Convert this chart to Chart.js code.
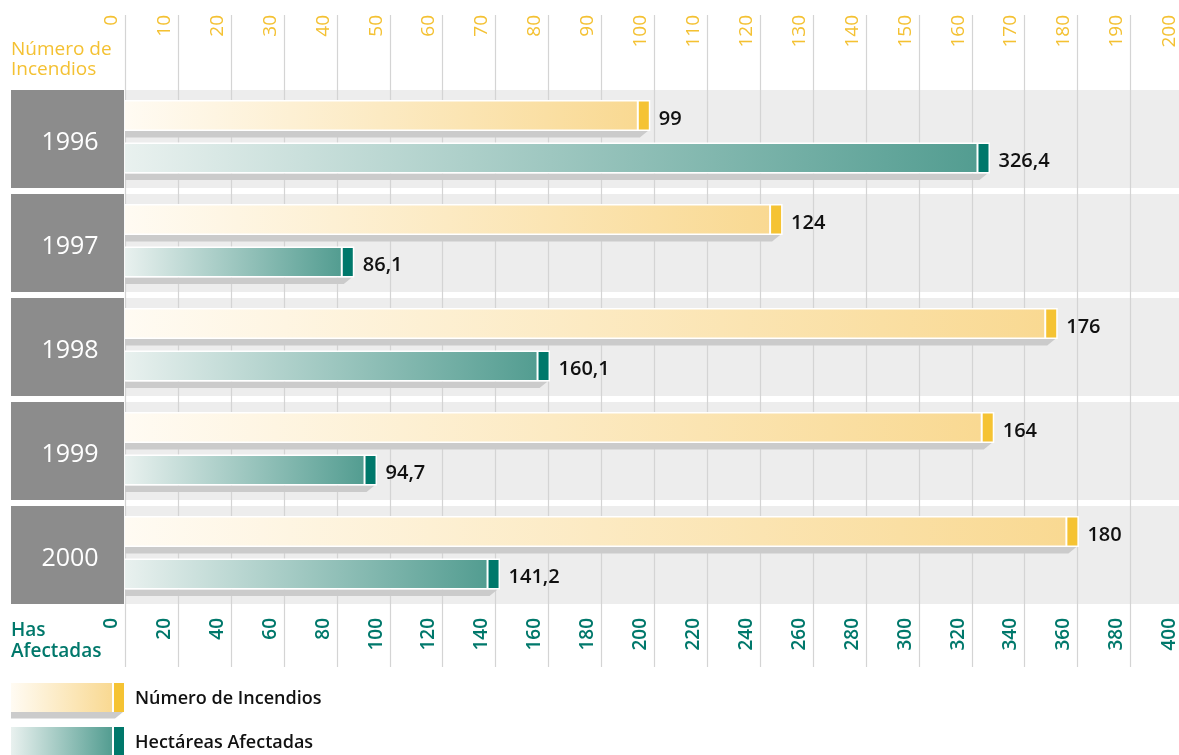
<!DOCTYPE html>
<html>
<head>
<meta charset="utf-8">
<script src="https://cdn.jsdelivr.net/npm/chart.js@4/dist/chart.umd.min.js"></script>
<style>
  html, body { margin: 0; padding: 0; background: #ffffff; overflow: hidden; }
  #wrap { width: 1179px; height: 755px; overflow: hidden; position: relative; }
  canvas { display: block; }
</style>
</head>
<body>
<div id="wrap"><canvas id="chart" width="1200" height="755"></canvas></div>
<script>
// Incendios forestales por año: número de incendios y hectáreas afectadas
const years = ['1996', '1997', '1998', '1999', '2000'];
const incendios = [99, 124, 176, 164, 180];
const hectareas = [326.4, 86.1, 160.1, 94.7, 141.2];
const incendiosTicks = [0, 10, 20, 30, 40, 50, 60, 70, 80, 90, 100, 110, 120, 130, 140, 150, 160, 170, 180, 190, 200];
const hectareasTicks = [0, 20, 40, 60, 80, 100, 120, 140, 160, 180, 200, 220, 240, 260, 280, 300, 320, 340, 360, 380, 400];
const seriesNames = ['Número de Incendios', 'Hectáreas Afectadas'];
const topTitle = ['Número de', 'Incendios'];
const bottomTitle = ['Has', 'Afectadas'];

const FONT = '"Open Sans", "Noto Sans", sans-serif';
const YELLOW = { cap: '#f5c333', from: '#fffbf3', to: '#f9d992', text: '#f4c132' };
const TEAL = { cap: '#00786b', from: '#e9f1ef', to: '#539d91', text: '#00786b' };

const fmtHa = v => v.toFixed(1).replace('.', ',');
const fmtInc = v => String(v);

// One bar: drop shadow, white frame, gradient body and solid end cap
function drawBar(ctx, x0, x1, top, h, st, framed) {
  const bottom = top + h;
  ctx.fillStyle = '#cbcbcb';
  ctx.beginPath();
  ctx.moveTo(x0, bottom);
  ctx.lineTo(x1 - 1, bottom);
  ctx.lineTo(x1 - 9, bottom + 6.5);
  ctx.lineTo(x0, bottom + 6.5);
  ctx.closePath();
  ctx.fill();
  const b = framed ? 1.5 : 0;
  if (framed) {
    ctx.fillStyle = '#ffffff';
    ctx.fillRect(x0, top, x1 - x0 + 1.5, h);
  }
  const capW = 10;
  const capX = x1 - capW;
  const bodyEnd = capX - 2;
  const g = ctx.createLinearGradient(x0, 0, bodyEnd, 0);
  g.addColorStop(0, st.from);
  g.addColorStop(1, st.to);
  ctx.fillStyle = g;
  ctx.fillRect(x0, top + b, Math.max(0, bodyEnd - x0), h - 2 * b);
  if (!framed) {
    ctx.fillStyle = '#ffffff';
    ctx.fillRect(bodyEnd, top, 2, h);
  }
  ctx.fillStyle = st.cap;
  ctx.fillRect(capX, top + b, capW, h - 2 * b);
}

const backdrop = {
  id: 'backdrop',
  beforeDatasetsDraw(chart) {
    const { ctx, chartArea, scales } = chart;
    const y = scales.y, xTop = scales.xTop;
    ctx.save();
    // category bands and year boxes
    years.forEach((yr, i) => {
      const cy = y.getPixelForValue(i);
      const top = cy - 46.75, bot = cy + 51.25;
      ctx.fillStyle = '#ededed';
      ctx.fillRect(chartArea.left, top, chart.width - chartArea.left, bot - top);
      ctx.fillStyle = '#8c8c8c';
      ctx.fillRect(11, top, chartArea.left - 1 - 11, bot - top);
      ctx.fillStyle = '#ffffff';
      ctx.font = '500 25px ' + FONT;
      ctx.textAlign = 'center';
      ctx.textBaseline = 'alphabetic';
      ctx.fillText(yr, 70, cy + 13.25);
    });
    // vertical grid lines
    ctx.strokeStyle = '#d4d4d4';
    ctx.lineWidth = 1.2;
    xTop.ticks.forEach(t => {
      const px = Math.round(xTop.getPixelForValue(t.value)) + 0.5;
      ctx.beginPath();
      ctx.moveTo(px, 15);
      ctx.lineTo(px, 667);
      ctx.stroke();
    });
    ctx.restore();
  },
  afterDatasetsDraw(chart) {
    const { ctx, scales } = chart;
    const xTop = scales.xTop, xBottom = scales.xBottom;
    ctx.save();
    const styles = [YELLOW, TEAL];
    const fmts = [fmtInc, fmtHa];
    chart.data.datasets.forEach((ds, di) => {
      const meta = chart.getDatasetMeta(di);
      meta.data.forEach((el, i) => {
        const p = el.getProps(['x', 'y', 'base', 'height'], true);
        const top = p.y - p.height / 2;
        drawBar(ctx, p.base, p.x, top, p.height, styles[di], true);
        ctx.fillStyle = '#111111';
        ctx.font = '600 20px ' + FONT;
        ctx.textAlign = 'left';
        ctx.textBaseline = 'alphabetic';
        ctx.fillText(fmts[di](ds.data[i]), p.x + 10, p.y + 9);
      });
    });

    // tick labels, rotated, reading upward
    const drawTicks = (scale, yEnd, font, color) => {
      ctx.font = font;
      ctx.fillStyle = color;
      ctx.textAlign = 'right';
      ctx.textBaseline = 'alphabetic';
      scale.ticks.forEach(t => {
        const px = scale.getPixelForValue(t.value);
        ctx.save();
        ctx.translate(px - 8, yEnd);
        ctx.rotate(-Math.PI / 2);
        ctx.fillText(String(t.value), 0, 0);
        ctx.restore();
      });
    };
    drawTicks(xTop, 15, '500 19px ' + FONT, YELLOW.text);
    drawTicks(xBottom, 618, '600 19px ' + FONT, TEAL.text);

    // axis titles
    ctx.textAlign = 'left';
    ctx.textBaseline = 'alphabetic';
    ctx.font = '500 19px ' + FONT;
    ctx.fillStyle = YELLOW.text;
    ctx.fillText(topTitle[0], 11, 55);
    ctx.fillText(topTitle[1], 11, 75);
    ctx.font = '600 19px ' + FONT;
    ctx.fillStyle = TEAL.text;
    ctx.fillText(bottomTitle[0], 11, 636);
    ctx.fillText(bottomTitle[1], 11, 656.5);

    // legend
    const legendTops = [683, 727];
    chart.data.datasets.forEach((ds, di) => {
      const t = legendTops[di];
      drawBar(ctx, 11, 124, t, 29, styles[di], false);
      ctx.fillStyle = '#111111';
      ctx.font = '600 18px ' + FONT;
      ctx.textAlign = 'left';
      ctx.fillText(ds.label, 135, t + 21);
    });
    ctx.restore();
  }
};

const whiteBg = {
  id: 'whiteBg',
  beforeDraw(chart) {
    const c = chart.ctx;
    c.save();
    c.fillStyle = '#ffffff';
    c.fillRect(0, 0, chart.width, chart.height);
    c.restore();
  }
};

new Chart(document.getElementById('chart'), {
  type: 'bar',
  data: {
    labels: years,
    datasets: [
      { label: seriesNames[0], data: incendios, xAxisID: 'xTop', backgroundColor: 'rgba(0,0,0,0)', borderWidth: 0 },
      { label: seriesNames[1], data: hectareas, xAxisID: 'xBottom', backgroundColor: 'rgba(0,0,0,0)', borderWidth: 0 }
    ]
  },
  options: {
    indexAxis: 'y',
    responsive: false,
    animation: false,
    devicePixelRatio: 1,
    categoryPercentage: 0.8173,
    barPercentage: 0.7294,
    layout: { padding: { left: 125, right: 1200 - 1183.2, top: 84.75, bottom: 755 - 604.75 } },
    scales: {
      y: { type: 'category', display: false, offset: true, grid: { display: false } },
      xTop: {
        type: 'linear', position: 'top', min: 0, max: 200, display: false,
        afterBuildTicks: s => { s.ticks = incendiosTicks.map(v => ({ value: v })); }
      },
      xBottom: {
        type: 'linear', position: 'bottom', min: 0, max: 400, display: false,
        afterBuildTicks: s => { s.ticks = hectareasTicks.map(v => ({ value: v })); }
      }
    },
    plugins: { legend: { display: false }, tooltip: { enabled: false } }
  },
  plugins: [whiteBg, backdrop]
});
</script>
</body>
</html>
